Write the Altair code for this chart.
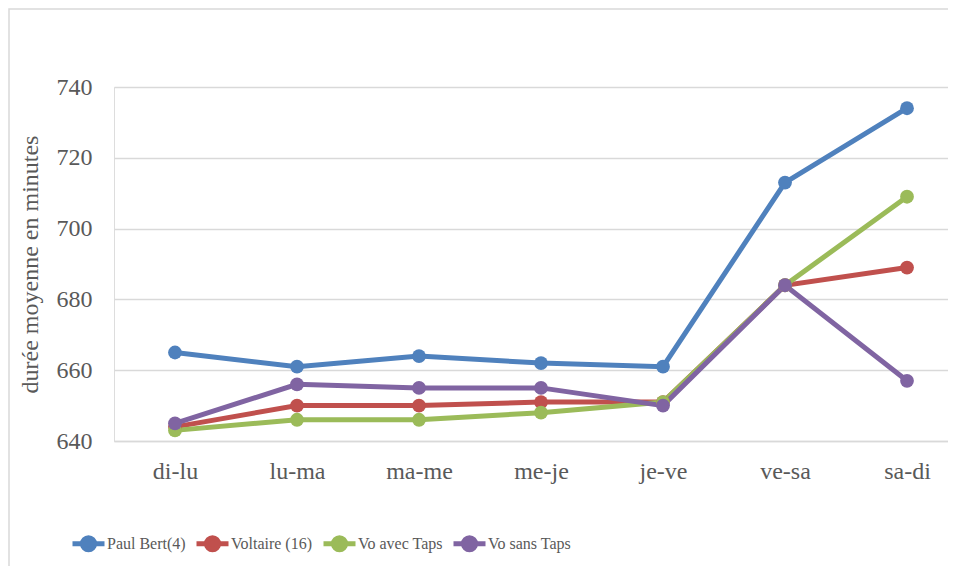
import altair as alt
import pandas as pd

categories = ["di-lu", "lu-ma", "ma-me", "me-je", "je-ve", "ve-sa", "sa-di"]
series_names = ["Paul Bert(4)", "Voltaire (16)", "Vo avec Taps", "Vo sans Taps"]
paul_bert = [665, 661, 664, 662, 661, 713, 734]
voltaire = [644, 650, 650, 651, 651, 684, 689]
vo_avec = [643, 646, 646, 648, 651, 684, 709]
vo_sans = [645, 656, 655, 655, 650, 684, 657]
y_ticks = [640, 660, 680, 700, 720, 740]
colors = ["#4F81BD", "#C0504D", "#9BBB59", "#8064A2"]

rows = []
for name, vals in zip(series_names, [paul_bert, voltaire, vo_avec, vo_sans]):
    for i, (c, v) in enumerate(zip(categories, vals)):
        rows.append({"idx": i, "jour": c, "serie": name, "valeur": v})
df = pd.DataFrame(rows)

label_expr = "[" + ",".join("'%s'" % c for c in categories) + "][datum.value]"

W, H = 834, 354
serif = "Liberation Serif"

legend_symbol = ("M -0.38,0 A 0.38 0.38 0 1 1 0.38 0 A 0.38 0.38 0 1 1 -0.38 0 Z "
                 "M -1,0 L 1,0")

color_scale = alt.Scale(domain=series_names, range=colors)

x_enc = alt.X("idx:Q",
              scale=alt.Scale(domain=[-0.5, 6.336], nice=False, zero=False),
              axis=alt.Axis(values=list(range(len(categories))), labelExpr=label_expr,
                            title=None, grid=False, ticks=False, domain=True,
                            domainColor="#D9D9D9", domainWidth=1.5,
                            labelFont=serif, labelFontSize=24, labelColor="#595959",
                            labelPadding=18))
y_enc = alt.Y("valeur:Q",
              scale=alt.Scale(domain=[640, 740], nice=False, zero=False),
              axis=alt.Axis(values=y_ticks, title="durée moyenne en minutes",
                            titleFont=serif, titleFontSize=24, titleFontWeight="normal",
                            titleColor="#595959", titlePadding=14,
                            grid=True, gridColor="#D9D9D9", gridWidth=1.5,
                            ticks=False, domain=False,
                            labelFont=serif, labelFontSize=24, labelColor="#595959",
                            labelPadding=22))

lines = alt.Chart(df).mark_line(strokeWidth=5, point=alt.OverlayMarkDef(size=190, filled=True, opacity=1)).encode(
    x=x_enc,
    y=y_enc,
    color=alt.Color("serie:N", scale=color_scale, sort=series_names,
                    legend=alt.Legend(title=None, orient="none", direction="horizontal",
                                      columns=4, legendX=-44, legendY=438,
                                      symbolType=legend_symbol, symbolSize=1024,
                                      symbolStrokeWidth=5, symbolOpacity=1,
                                      labelFont=serif, labelFontSize=16,
                                      labelColor="#595959", labelOffset=0,
                                      columnPadding=0)),
    order=alt.Order("idx:Q"),
)

frame = alt.Chart(pd.DataFrame({"a": [0]})).mark_rect(
    fill=None, stroke="#D9D9D9", strokeWidth=1.5
).encode(x=alt.value(-105), x2=alt.value(1200), y=alt.value(-78), y2=alt.value(1200))

chart = alt.layer(frame, lines).properties(
    width=W, height=H,
    autosize=alt.AutoSizeParams(type="none"),
    padding={"left": 106, "top": 79, "right": 0, "bottom": 125},
).configure_view(stroke=None).configure(background="white")

chart.save("out.html", embed_options={"renderer": "svg", "actions": False})
